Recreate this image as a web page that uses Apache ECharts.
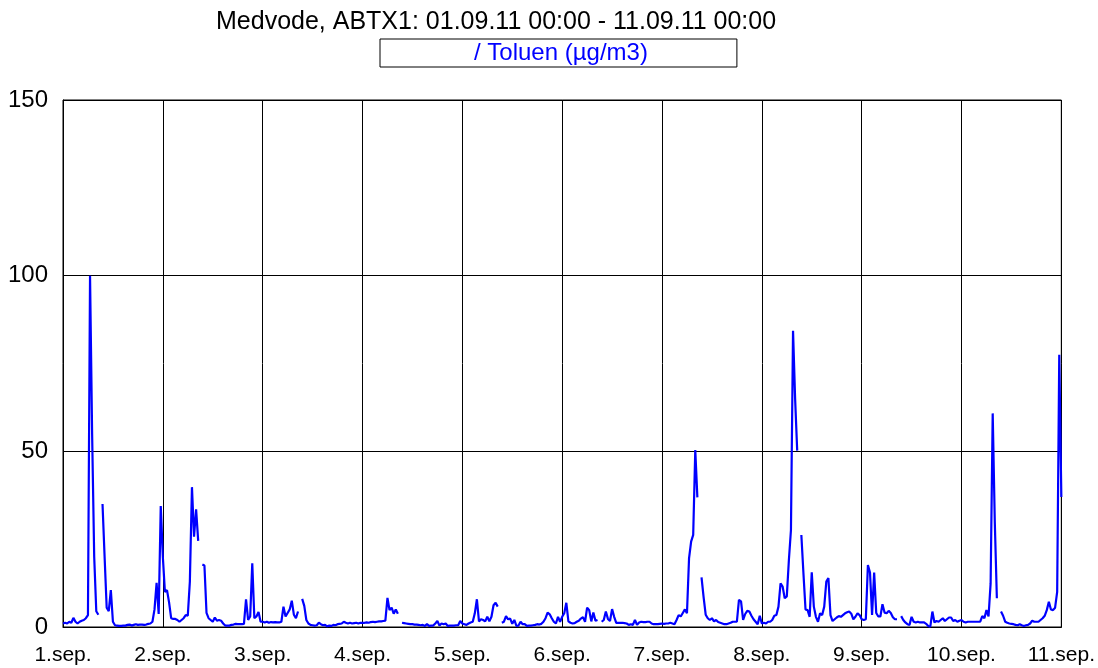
<!DOCTYPE html>
<html><head><meta charset="utf-8">
<script src="https://cdn.jsdelivr.net/npm/echarts@6/dist/echarts.min.js"></script>
<style>html,body{margin:0;padding:0;background:#fff}#c{width:1098px;height:668px}</style>
</head><body><div id="c"></div>
<script>
// Half-hourly Toluen values (µg/m3), 48 per day, null = missing
const day1 = [1.0,1.2,1.0,1.5,1.2,2.6,1.5,1.0,1.5,1.8,2.0,2.5,3.4,100,55,20,4.5,3.5,null,35,20,5.5,4.5,10.5,1.5,0.5,0.4,0.3,0.3,0.4,0.4,0.6,0.7,0.4,0.6,0.8,0.6,0.7,0.7,0.6,0.7,0.9,1.0,1.5,5,12.6,3.7,34.4];
const day2 = [20,10,10.5,7,2.5,2.3,2.3,2.0,1.5,2.0,2.5,3.4,3.2,13,39.8,25.7,33.5,24.5,null,17.8,17.5,4,2.5,2.0,1.5,2.7,1.8,2.0,1.8,1.0,0.4,0.4,0.4,0.6,0.7,0.9,0.8,0.8,0.8,0.9,7.9,2.0,3.0,18.1,2.5,3,4.3,1.5];
const day3 = [1.5,1.3,1.5,1.2,1.4,1.3,1.4,1.3,1.3,1.5,5.8,3.0,4.0,5.0,7.5,3.5,2.5,4.4,null,8,6,2,1.0,0.6,0.5,0.4,0.5,1.2,0.8,0.5,0.6,0.2,0.4,0.3,0.6,0.5,0.8,0.9,1.0,1.5,1.2,1.0,1.2,1.0,1.1,1.2,1.0,1.2];
const day4 = [1.2,1.2,1.3,1.2,1.4,1.5,1.4,1.5,1.6,1.6,1.7,1.8,8.3,4.8,5.5,3.8,5.0,3.8,null,1.2,1.1,1.0,0.9,0.8,0.8,0.7,0.7,0.6,0.5,0.6,0.3,0.8,0.3,0.4,0.4,1.0,1.7,0.4,1.0,0.8,1.0,0.3,0.4,0.4,0.4,0.5,0.5,1.7];
const day5 = [1.0,0.8,0.6,1.0,1.3,1.5,3.9,7.9,1.6,2.2,2.0,1.6,2.9,1.6,2.9,6.2,6.9,5.8,null,1.2,1.5,3.1,2.2,2.4,0.9,2.0,0.3,0.4,1.5,0.8,0.8,0.3,0.4,0.4,0.5,0.6,0.8,0.7,0.9,1.5,2.5,4.1,3.6,2.5,1.5,1.0,2.9,1.5];
const day6 = [2.9,3.9,6.9,1.6,1.2,1.0,1.1,1.5,1.8,2.4,2.8,1.5,5.5,4.8,1.6,4.1,1.8,2.0,null,1.5,2.0,4.4,2.3,1.7,5.1,2.9,1.2,1.2,1.2,1.2,1.1,1.0,0.6,0.8,0.6,2.0,0.6,1.3,1.5,1.4,1.4,1.5,1.5,1.0,0.8,0.8,0.8,0.9];
const day7 = [1.0,0.9,1.0,1.0,1.2,1.0,0.8,2.0,3.4,3.0,4.0,5.0,3.9,19.5,24.3,26.2,50.4,36.9,null,14.1,8.5,3.5,2.5,2.0,2.5,1.6,2.0,1.4,1.2,1.0,0.8,0.8,1.0,1.2,1.5,1.5,1.5,7.7,7.3,2.0,3.7,4.6,4.4,3.2,2.2,1.5,0.8,3.2];
const day8 = [1.0,1.2,1.0,1.5,1.5,2.0,3.2,3.4,5.8,12.4,11.5,8.2,8.7,19,27.6,84.3,65,50.2,null,26.2,15.3,5.0,4.8,2.9,15.6,5.8,2.9,1.5,3.9,3.4,5.8,12.9,13.9,3.4,1.7,2.2,2.7,3.1,2.9,3.4,3.9,4.2,4.4,3.8,2.2,2.9,3.9,3.4];
const day9 = [2.2,2.0,2.2,17.6,15.5,3.4,15.5,4.0,3.0,3.0,6.5,4.1,3.9,4.6,4.0,2.8,2.2,2.2,null,3.1,2.0,1.3,0.8,0.6,2.9,1.5,1.3,1.5,1.3,1.3,1.3,0.9,0.3,0.1,4.4,1.3,1.7,1.5,2.0,2.5,1.7,2.2,2.7,2.7,1.7,2.0,1.5,1.8];
const day10 = [2.0,1.5,1.3,1.5,1.5,1.5,1.5,1.5,1.5,1.5,3.1,2.5,4.8,3.0,12.4,60.8,30,8.2,null,4.4,3.2,1.5,1.2,1.0,0.9,0.8,0.6,0.5,0.8,0.5,0.3,0.5,0.6,1.0,1.8,1.5,1.5,1.5,2.0,2.5,3.2,4.8,7.2,5.0,4.8,5.5,10,77.5];
const endValue = 37; // 11.09.11 00:00
const xTicks = ['1.sep.','2.sep.','3.sep.','4.sep.','5.sep.','6.sep.','7.sep.','8.sep.','9.sep.','10.sep.','11.sep.'];
const yTicks = [0, 50, 100, 150];
const seriesName = 'Toluen (µg/m3)';
const titleText = 'Medvode, ABTX1: 01.09.11 00:00 - 11.09.11 00:00';

const days = [day1,day2,day3,day4,day5,day6,day7,day8,day9,day10];
const data = [];
days.forEach((arr, d) => arr.forEach((v, i) => data.push([d * 24 + i * 0.5, v])));
data.push([240, endValue]);

const FONT = '"Liberation Sans", Arial, sans-serif';
const chart = echarts.init(document.getElementById('c'), null, {renderer: 'canvas'});
chart.setOption({
  animation: false,
  backgroundColor: '#ffffff',
  title: {
    text: titleText, left: 211, top: 5,
    textStyle: {fontFamily: FONT, fontSize: 25, fontWeight: 'normal', color: '#000'}
  },
  legend: {
    data: [seriesName], left: 380, top: 39,
    formatter: '/ {name}', icon: 'rect', itemWidth: 0, itemHeight: 0, itemGap: 0,
    borderColor: '#000', borderWidth: 1, borderRadius: 0,
    padding: [2, 89, 2, 89],
    textStyle: {fontFamily: FONT, fontSize: 24, color: '#0000ff'}
  },
  grid: {left: 63, right: 34, top: 100, bottom: 41, show: true, borderColor: '#000', borderWidth: 1},
  xAxis: {
    type: 'value', min: 0, max: 240, interval: 24,
    axisLine: {show: true, lineStyle: {color: '#000', width: 1}},
    axisTick: {show: false},
    splitLine: {show: true, lineStyle: {color: '#000', width: 1}},
    axisLabel: {
      margin: 18, color: '#000', fontFamily: FONT, fontSize: 21,
      formatter: v => xTicks[Math.round(v / 24)]
    }
  },
  yAxis: {
    type: 'value', min: 0, max: 150, interval: 50,
    axisLine: {show: true, lineStyle: {color: '#000', width: 1}},
    axisTick: {show: false},
    splitLine: {show: true, lineStyle: {color: '#000', width: 1}},
    axisLabel: {
      margin: 15, color: '#000', fontFamily: FONT, fontSize: 24,
      formatter: v => yTicks.includes(v) ? String(v) : ''
    }
  },
  series: [{
    name: seriesName, type: 'line', data: data, showSymbol: false, symbol: 'none',
    connectNulls: false,
    lineStyle: {color: '#0000ff', width: 2.2}, itemStyle: {color: '#0000ff'}
  }]
});
</script></body></html>
